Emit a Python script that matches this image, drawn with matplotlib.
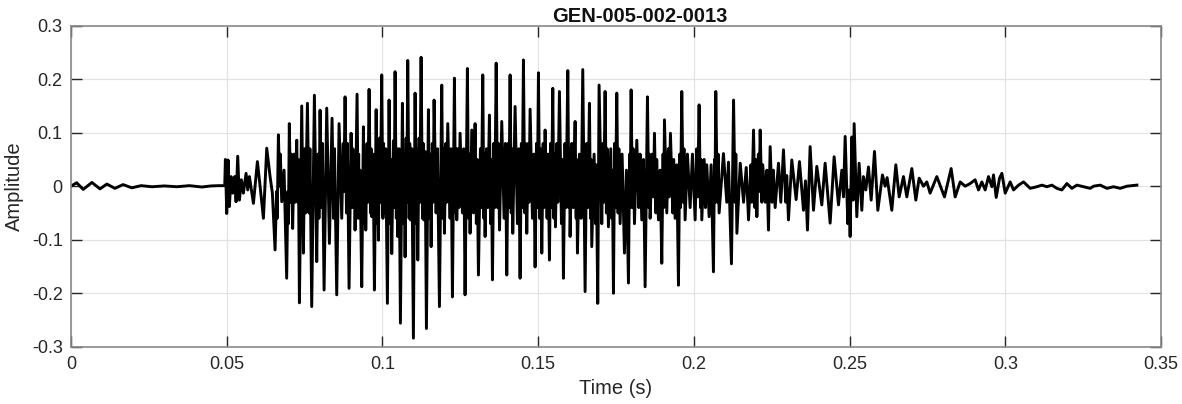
import matplotlib
matplotlib.use('Agg')
import matplotlib.pyplot as plt
import numpy as np

# waveform as (time in ms, amplitude) extrema, segment by segment
silence = [(0, 0.0), (1.8, 0.0065), (3.9, -0.006), (6.7, 0.007), (9.3, -0.005), (11.5, 0.004),
           (14.1, -0.004), (16.7, 0.003), (19.5, -0.003), (22.5, 0.001), (26.0, -0.001),
           (30.0, 0.0005), (34.0, -0.001), (38.0, 0.001), (42.0, -0.0015), (45.0, 0.0005),
           (47.5, 0.001), (49.35, 0.001)]

onset = [(49.56, 0.050), (49.99, -0.051), (50.42, 0.049), (50.84, -0.038), (51.38, 0.018),
         (51.92, -0.013), (52.56, 0.018), (52.99, -0.029), (53.52, 0.056), (54.06, -0.026),
         (54.70, 0.012), (55.34, -0.013), (56.20, 0.024), (56.73, -0.007), (57.27, 0.018),
         (58.56, -0.032), (59.84, 0.046), (60.70, 0.0), (61.77, -0.060), (62.84, 0.071),
         (63.91, 0.018), (64.65, -0.013), (65.51, -0.119), (66.00, -0.010), (66.20, -0.060),
         (66.58, 0.096), (67.00, 0.000), (67.20, 0.060), (67.65, -0.029), (68.40, 0.030),
         (69.24, -0.172), (69.60, -0.010), (69.80, -0.070), (70.09, 0.117), (70.50, -0.030),
         (70.70, 0.060), (71.16, -0.079), (71.60, 0.060), (71.90, -0.030), (72.47, 0.086),
         (72.80, -0.030), (73.00, 0.050), (73.33, -0.218), (74.07, 0.150), (74.61, -0.125),
         (75.00, 0.070), (75.30, -0.050), (75.90, 0.155), (76.40, -0.050), (76.70, 0.070),
         (77.28, -0.225), (78.14, 0.170), (78.89, -0.141), (79.30, 0.060), (79.60, -0.060),
         (79.96, 0.142), (80.40, -0.040), (80.70, 0.080), (81.25, -0.194), (82.10, 0.146),
         (82.96, -0.107), (83.81, 0.127), (84.30, -0.060), (84.60, 0.070), (85.31, -0.203),
         (86.06, 0.117), (86.92, -0.060), (87.40, 0.080), (87.60, -0.010)]

nucleus_a = [(87.99, 0.167), (88.45, -0.05), (88.75, 0.08), (89.27, -0.191), (89.92, 0.099),
             (90.30, -0.04), (90.50, 0.07), (90.67, -0.03), (90.95, 0.05), (91.20, -0.082),
             (91.84, 0.172), (92.20, -0.06), (92.35, 0.06), (92.49, -0.057), (92.80, 0.03),
             (93.34, -0.188), (93.88, 0.111), (94.25, -0.07), (94.40, 0.05), (94.63, -0.082),
             (95.05, 0.08), (95.30, -0.03), (95.70, 0.181), (96.15, -0.05), (96.35, 0.07),
             (96.57, -0.057), (96.98, 0.060), (97.41, -0.194), (97.97, 0.143), (98.30, -0.07),
             (98.45, 0.05), (98.69, -0.101), (99.05, 0.09), (99.30, -0.03), (99.76, 0.208),
             (100.15, -0.06), (100.35, 0.08), (100.62, -0.050), (101.04, 0.070), (101.58, -0.219),
             (102.12, 0.161), (102.50, -0.07), (102.70, 0.05), (102.97, -0.126), (103.51, 0.085),
             (103.75, -0.040), (104.05, 0.214), (104.45, -0.06), (104.65, 0.07), (104.90, -0.094),
             (105.33, 0.070), (105.76, -0.256), (106.40, 0.155), (106.75, -0.07), (106.95, 0.06),
             (107.26, -0.132), (107.60, 0.09), (107.80, -0.03), (108.11, 0.235), (108.55, -0.06),
             (108.75, 0.08), (108.97, -0.063), (109.40, 0.070), (109.93, -0.284), (110.47, 0.174),
             (110.85, -0.07), (111.05, 0.07), (111.33, -0.138), (111.75, 0.09), (112.00, -0.03),
             (112.40, 0.241), (112.85, -0.06), (113.05, 0.08), (113.25, -0.063), (113.68, 0.065),
             (114.11, -0.266), (114.75, 0.143), (115.10, -0.06), (115.30, 0.06), (115.61, -0.113),
             (116.00, 0.08), (116.25, -0.03), (116.57, 0.161), (117.22, -0.050), (117.65, 0.070),
             (118.29, -0.225), (119.03, 0.189), (119.40, -0.06), (119.60, 0.07), (119.89, -0.088),
             (120.35, 0.08), (120.60, -0.03), (120.96, 0.117), (121.71, -0.060), (122.03, 0.070),
             (122.46, -0.207), (123.10, 0.202), (123.45, -0.05), (123.65, 0.07), (123.85, -0.063),
             (124.30, 0.07), (124.55, -0.04), (124.92, 0.099), (125.67, -0.050), (126.10, 0.070),
             (126.52, -0.203), (127.27, 0.220), (127.65, -0.06), (127.85, 0.06), (128.13, -0.088)]

nucleus_b = [(128.67, 0.105), (129.20, -0.050), (129.74, 0.117), (130.15, -0.07), (130.40, 0.05),
             (130.81, -0.166), (131.45, 0.070), (131.75, -0.04), (132.20, 0.208), (132.55, -0.06),
             (132.70, 0.06), (132.95, -0.094), (133.40, 0.070), (133.80, -0.040), (134.34, 0.133),
             (134.70, -0.07), (134.95, 0.05), (135.31, -0.175), (135.75, 0.08), (136.05, -0.04),
             (136.51, 0.230), (136.95, -0.04), (137.20, 0.08), (137.58, -0.082), (138.30, 0.121),
             (139.05, -0.060), (139.48, 0.080), (139.91, -0.166), (140.35, 0.08), (140.60, -0.04),
             (140.98, 0.208), (141.35, -0.05), (141.55, 0.07), (141.83, -0.088), (142.58, 0.149),
             (143.33, -0.070), (143.76, 0.070), (144.19, -0.172), (144.60, 0.08), (144.85, -0.04),
             (145.26, 0.236), (145.70, -0.05), (145.95, 0.08), (146.33, -0.088), (146.80, 0.08),
             (147.05, -0.03), (147.40, 0.144), (148.15, -0.060), (148.58, 0.060), (149.01, -0.151),
             (149.45, 0.08), (149.70, -0.04), (150.08, 0.212), (150.50, -0.06), (150.75, 0.07),
             (151.15, -0.125), (151.60, 0.08), (151.85, -0.04), (152.22, 0.105), (152.86, -0.060),
             (153.18, 0.060), (153.61, -0.138), (154.00, 0.08), (154.25, -0.04), (154.68, 0.183),
             (155.05, -0.06), (155.25, 0.06), (155.54, -0.076), (156.00, 0.08), (156.30, -0.03),
             (156.82, 0.177), (157.46, -0.070), (157.78, 0.050), (158.10, -0.172), (158.60, 0.08),
             (158.95, -0.04), (159.50, 0.216), (159.85, -0.04), (160.05, 0.07), (160.24, -0.094),
             (160.80, 0.08), (161.25, -0.04), (161.85, 0.121), (162.20, -0.06), (162.35, 0.05),
             (162.60, -0.125), (163.24, 0.060), (163.78, -0.060), (164.31, 0.218), (165.06, -0.197),
             (165.55, 0.08), (165.95, -0.04), (166.45, 0.155), (166.80, -0.06), (166.95, 0.05),
             (167.20, -0.113), (167.95, 0.060), (168.40, -0.07), (168.65, 0.04), (169.12, -0.219)]

nucleus_c = [(169.55, 0.189), (170.41, -0.070), (170.80, 0.08), (171.05, -0.03), (171.48, 0.177),
             (171.90, -0.05), (172.15, 0.07), (172.55, -0.076), (173.30, 0.070), (173.60, -0.06),
             (173.80, 0.03), (174.16, -0.200), (174.55, 0.08), (174.80, -0.04), (175.23, 0.174),
             (175.65, -0.05), (175.90, 0.07), (176.30, -0.070), (176.94, 0.060), (177.69, -0.125),
             (178.33, 0.030), (178.98, -0.181), (179.35, 0.06), (179.55, -0.04), (179.84, 0.180),
             (180.25, -0.04), (180.50, 0.07), (180.91, -0.070), (181.66, 0.086), (182.30, -0.040),
             (182.70, 0.060), (183.26, -0.063), (183.80, 0.050), (184.33, -0.188), (185.08, 0.167),
             (185.50, -0.04), (185.70, 0.06), (185.94, -0.060), (186.60, 0.060), (187.00, -0.02),
             (187.33, 0.099), (187.80, -0.05), (188.05, 0.05), (188.61, -0.063), (189.15, 0.030),
             (189.68, -0.144), (190.10, 0.06), (190.30, -0.04), (190.54, 0.124), (191.29, -0.050),
             (191.80, 0.07), (192.05, -0.02), (192.46, 0.099), (193.20, -0.050), (193.50, 0.050),
             (193.96, -0.060), (194.50, 0.040), (195.03, -0.185), (195.45, 0.06), (195.70, -0.04),
             (196.10, 0.177), (196.55, -0.03), (196.80, 0.07), (197.17, -0.063), (197.92, 0.060),
             (198.78, -0.040), (199.53, 0.060), (200.39, -0.063), (200.90, 0.07), (201.20, -0.02),
             (201.67, 0.152), (202.10, -0.04), (202.30, 0.05), (202.53, -0.063), (203.30, 0.050),
             (203.70, -0.040), (204.13, 0.040), (204.88, -0.057), (205.52, 0.040), (206.27, -0.160),
             (206.60, 0.05), (206.75, -0.03), (207.02, 0.177), (207.50, -0.03), (207.75, 0.06),
             (208.09, -0.050)]

decay_a = [(209.48, 0.061), (210.55, -0.030), (211.09, 0.045), (212.05, -0.145), (212.73, 0.161),
           (213.20, -0.03), (213.45, 0.06), (213.80, -0.088), (214.87, 0.043), (215.94, -0.030),
           (216.79, 0.035), (217.54, -0.063), (218.30, 0.04), (218.60, -0.03), (219.14, 0.105),
           (219.60, -0.04), (219.85, 0.05), (220.21, -0.057), (220.70, 0.06), (220.95, -0.01),
           (221.28, 0.105), (221.80, -0.03), (222.10, 0.04), (222.89, -0.030), (223.42, 0.030),
           (223.94, -0.082), (224.48, 0.074), (225.10, -0.03), (225.50, 0.03), (226.08, -0.040),
           (227.15, 0.043), (227.90, -0.030), (228.76, 0.068), (229.50, -0.03), (229.80, 0.02),
           (230.36, -0.063), (231.43, 0.049), (232.82, -0.025), (233.89, 0.046), (235.18, -0.045),
           (235.82, 0.010), (236.46, -0.082), (237.31, 0.074), (238.39, -0.045), (239.46, 0.037),
           (241.06, -0.035), (242.13, 0.043), (243.74, -0.069), (245.02, 0.055), (246.42, -0.035),
           (247.49, 0.030), (248.03, -0.020), (248.56, 0.093)]

decay_b = [(249.41, -0.070), (249.84, -0.007), (250.16, -0.094), (250.70, 0.092), (251.13, -0.026),
           (251.45, 0.117), (252.30, -0.057), (253.05, 0.043), (253.91, -0.045), (254.44, 0.018),
           (255.19, -0.007), (256.05, 0.036), (256.91, -0.026), (257.98, 0.065), (259.05, -0.045),
           (260.54, 0.021), (261.40, 0.0), (262.04, 0.016), (263.54, -0.045), (264.83, 0.040),
           (265.90, -0.020), (267.29, 0.018), (268.36, -0.020), (269.97, 0.033), (271.25, -0.026),
           (272.32, 0.015), (273.71, 0.0), (274.78, 0.008), (275.85, -0.013), (277.99, 0.018),
           (280.45, -0.020), (282.59, 0.033), (283.88, -0.020), (285.49, 0.008), (287.09, 0.0),
           (288.70, 0.005)]

coda = [(290.30, 0.012), (291.38, -0.007), (292.45, 0.008), (293.52, -0.007), (294.59, 0.018),
        (295.66, -0.001), (296.20, 0.021), (297.06, -0.021), (298.13, 0.015), (298.88, 0.024),
        (299.95, -0.013), (301.55, 0.008), (302.63, -0.007), (304.23, 0.002), (305.84, 0.008),
        (307.98, -0.004), (310.12, -0.001), (311.73, 0.002), (313.33, -0.001), (314.94, 0.002),
        (316.54, -0.004), (318.15, -0.007), (319.76, 0.005), (321.36, -0.004), (322.97, 0.002),
        (325.11, -0.001), (327.25, -0.004), (328.32, 0.0), (330.46, 0.002), (332.60, -0.004),
        (334.74, -0.001), (336.88, -0.004), (339.02, 0.0), (342.23, 0.002)]

title = 'GEN-005-002-0013'
xticks = [0, 0.05, 0.1, 0.15, 0.2, 0.25, 0.3, 0.35]
xticklabels = ['0', '0.05', '0.1', '0.15', '0.2', '0.25', '0.3', '0.35']
yticks = [-0.3, -0.2, -0.1, 0, 0.1, 0.2, 0.3]
yticklabels = ['-0.3', '-0.2', '-0.1', '0', '0.1', '0.2', '0.3']

plt.rcParams['font.family'] = ['Liberation Sans', 'DejaVu Sans']
plt.rcParams['axes.unicode_minus'] = False

pts = np.array(silence + onset + nucleus_a + nucleus_b + nucleus_c + decay_a + decay_b + coda)
t = pts[:, 0] / 1000.0
amp = pts[:, 1]

fig = plt.figure(figsize=(11.82, 4.04), dpi=100)
ax = fig.add_axes([0.0601, 0.1418, 0.9222, 0.7946])

ax.plot(t, amp, color='black', lw=2.1, solid_joinstyle='round')

ax.set_xlim(0, 0.35)
ax.set_ylim(-0.3, 0.3)
ax.set_xticks(xticks)
ax.set_xticklabels(xticklabels)
ax.set_yticks(yticks)
ax.set_yticklabels(yticklabels)
ax.grid(True, color='#e3e3e3', lw=0.9)
ax.set_axisbelow(True)

for s in ax.spines.values():
    s.set_color('#8a8a8a')
    s.set_linewidth(1.2)
ax.tick_params(direction='in', length=8, width=1, color='#262626', labelcolor='#262626',
               labelsize=13, top=True, right=True)
ax.tick_params(axis='x', pad=7)
ax.tick_params(axis='y', pad=6)

ax.set_xlabel('Time (s)', fontsize=14.5, color='#262626', labelpad=4)
ax.set_ylabel('Amplitude', fontsize=14.5, color='#262626', labelpad=6)
ax.set_title(title, fontsize=14.5, fontweight='bold', color='#111111', pad=3, x=0.522)

fig.savefig('out.png', dpi=100)
